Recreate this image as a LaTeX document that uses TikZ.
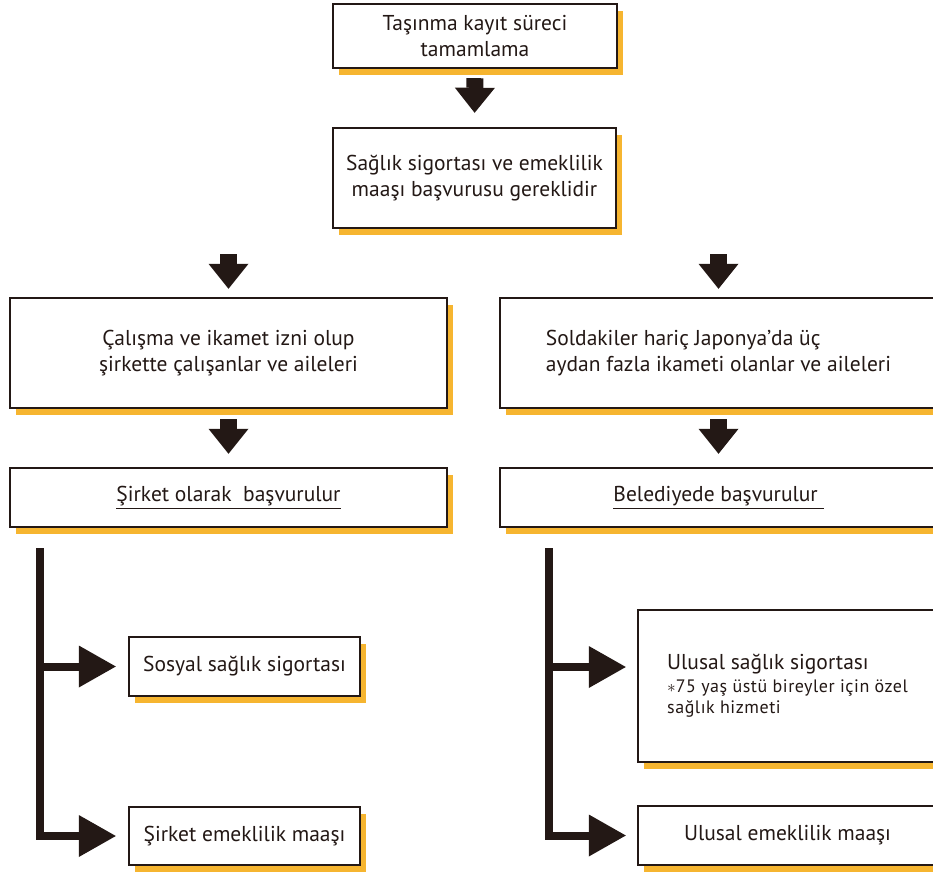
\documentclass[tikz,border=0pt]{standalone}
\usepackage{fontspec}
\setmainfont{PT Sans}
\usetikzlibrary{arrows.meta}
\definecolor{ink}{HTML}{231815}
\definecolor{shade}{HTML}{F6B530}
\newcommand{\notefont}{\fontsize{18}{19}\selectfont\addfontfeature{LetterSpace=3}}
\begin{document}
\begin{tikzpicture}[x=1pt,y=-1pt,
  box/.style={draw=ink, line width=2.4pt, fill=white, text=ink, align=center,
    inner sep=0pt, font=\fontsize{21.5}{26}\selectfont,
    preaction={fill=shade, transform canvas={shift={(6pt,-7pt)}}}},
  downarrow/.style={draw=ink, line width=17pt,
    -{Triangle[width=40pt,length=25pt,line width=0pt]}},
  branch/.style={draw=ink, line width=8pt, miter limit=10,
    -{Triangle[width=42pt,length=37pt,line width=0pt]}}]
\clip (0,0) rectangle (933,872);
\fill[white] (0,0) rectangle (933,872);

\node[box, minimum width=284pt, minimum height=64pt] (top) at (475,36)
  {Taşınma kayıt süreci\\tamamlama};
\node[box, minimum width=283pt, minimum height=100pt] (mid) at (474.5,178)
  {Sağlık sigortası ve emeklilik\\maaşı başvurusu gereklidir};
\node[box, minimum width=437pt, minimum height=110pt] (L1) at (228.5,353)
  {Çalışma ve ikamet izni olup\\şirkette çalışanlar ve aileleri};
\node[box, minimum width=437pt, minimum height=59pt] (L2) at (228.5,497.5)
  {\underline{Şirket olarak\ \ başvurulur}};
\node[box, align=left, minimum width=437pt, minimum height=110pt] (R1) at (718.5,353)
  {Soldakiler hariç Japonya’da üç\\aydan fazla ikameti olanlar ve aileleri};
\node[box, minimum width=437pt, minimum height=59pt] (R2) at (718.5,497.5)
  {\underline{Belediyede başvurulur\ }};
\node[box, minimum width=231pt, minimum height=59pt] (LS) at (244.5,666.5)
  {Sosyal sağlık sigortası};
\node[box, minimum width=231pt, minimum height=58pt] (LE) at (244.5,836)
  {Şirket emeklilik maaşı};
\node[box, align=left, minimum width=299pt, minimum height=152pt] (RU) at (787.5,686)
  {Ulusal sağlık sigortası\\[-3pt]
   {\notefont $\ast$75 yaş üstü bireyler için özel}\\[-5pt]
   {\notefont sağlık hizmeti}};
\node[box, minimum width=299pt, minimum height=59pt] (RE) at (787.5,835.5)
  {Ulusal emeklilik maaşı};

% down arrows
\draw[downarrow, shorten <=9pt, shorten >=14pt] (top.south) -- (mid.north);
\draw[downarrow, shorten <=25pt, shorten >=8pt] (mid.south -| L1.north) -- (L1.north);
\draw[downarrow, shorten <=25pt, shorten >=8pt] (mid.south -| R1.north) -- (R1.north);
\draw[downarrow, shorten <=10pt, shorten >=13pt] (L1.south) -- (L2.north);
\draw[downarrow, shorten <=10pt, shorten >=13pt] (R1.south) -- (R2.north);

% branches
\coordinate (lt) at (40,548);
\coordinate (rt) at (549,548);
\coordinate (ruin) at ([yshift=19pt]RU.west);
\draw[branch, shorten >=12pt] (lt) |- (LE.west);
\draw[branch, shorten >=12pt] (lt |- LS.west) -- (LS.west);
\draw[branch, shorten >=11pt] (rt) |- (RE.west);
\draw[branch, shorten >=11pt] (rt |- ruin) -- (ruin);
\end{tikzpicture}
\end{document}
